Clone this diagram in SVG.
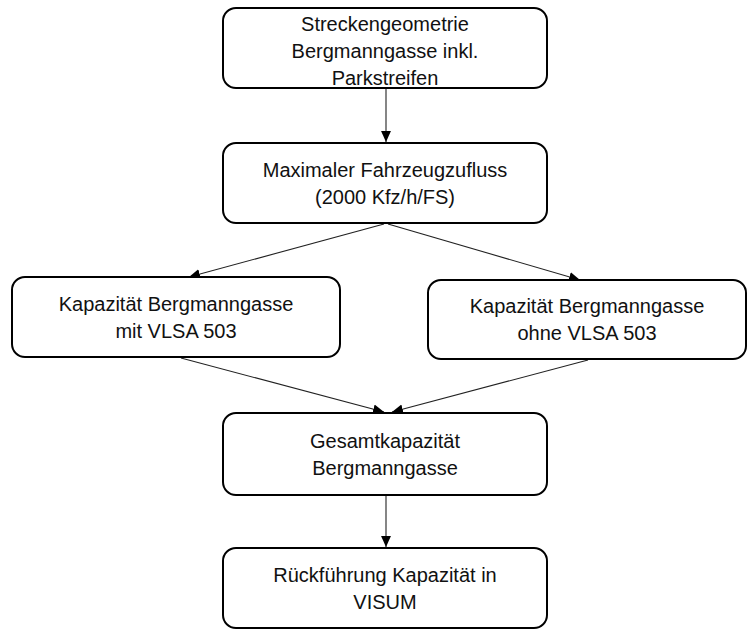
<svg xmlns="http://www.w3.org/2000/svg" width="747" height="630" viewBox="0 0 747 630">
<style>
.box{fill:#fff;stroke:#000;stroke-width:2}
.t{font-family:"Liberation Sans",Arial,sans-serif;font-size:20px;fill:#111;text-anchor:middle}
.c{stroke:#222;stroke-width:1.1;fill:none;marker-end:url(#ah)}
</style>
<defs>
<marker id="ah" viewBox="0 0 10 10" refX="10" refY="5" markerWidth="11" markerHeight="11" markerUnits="userSpaceOnUse" orient="auto">
<path d="M0,0.5 L10,5 L0,9.5 Z" fill="#000"/>
</marker>
</defs>
<rect width="747" height="630" fill="#fff"/>
<g id="connectors">
<line class="c" x1="386" y1="89" x2="386" y2="142"/>
<line class="c" x1="384" y1="224" x2="189" y2="277"/>
<line class="c" x1="388" y1="224" x2="580" y2="280"/>
<line class="c" x1="181" y1="358" x2="384" y2="412"/>
<line class="c" x1="588" y1="360" x2="392" y2="412"/>
<line class="c" x1="386" y1="496" x2="386" y2="547"/>
</g>
<g id="n1">
<rect class="box" x="223" y="8" width="324" height="80" rx="13"/>
<text class="t" x="385" y="31">Streckengeometrie</text>
<text class="t" x="385" y="58">Bergmanngasse inkl.</text>
<text class="t" x="385" y="85">Parkstreifen</text>
</g>
<g id="n2">
<rect class="box" x="223" y="143" width="324" height="80" rx="13"/>
<text class="t" x="385" y="177">Maximaler Fahrzeugzufluss</text>
<text class="t" x="385" y="204">(2000 Kfz/h/FS)</text>
</g>
<g id="n3">
<rect class="box" x="12" y="277" width="328" height="80" rx="13"/>
<text class="t" x="176" y="311">Kapazität Bergmanngasse</text>
<text class="t" x="176" y="338">mit VLSA 503</text>
</g>
<g id="n4">
<rect class="box" x="428" y="280" width="318" height="79" rx="13"/>
<text class="t" x="587" y="313">Kapazität Bergmanngasse</text>
<text class="t" x="587" y="340">ohne VLSA 503</text>
</g>
<g id="n5">
<rect class="box" x="223" y="413" width="324" height="82" rx="13"/>
<text class="t" x="385" y="448">Gesamtkapazität</text>
<text class="t" x="385" y="475">Bergmanngasse</text>
</g>
<g id="n6">
<rect class="box" x="223" y="548" width="324" height="80" rx="13"/>
<text class="t" x="385" y="582">Rückführung Kapazität in</text>
<text class="t" x="385" y="609">VISUM</text>
</g>
</svg>
